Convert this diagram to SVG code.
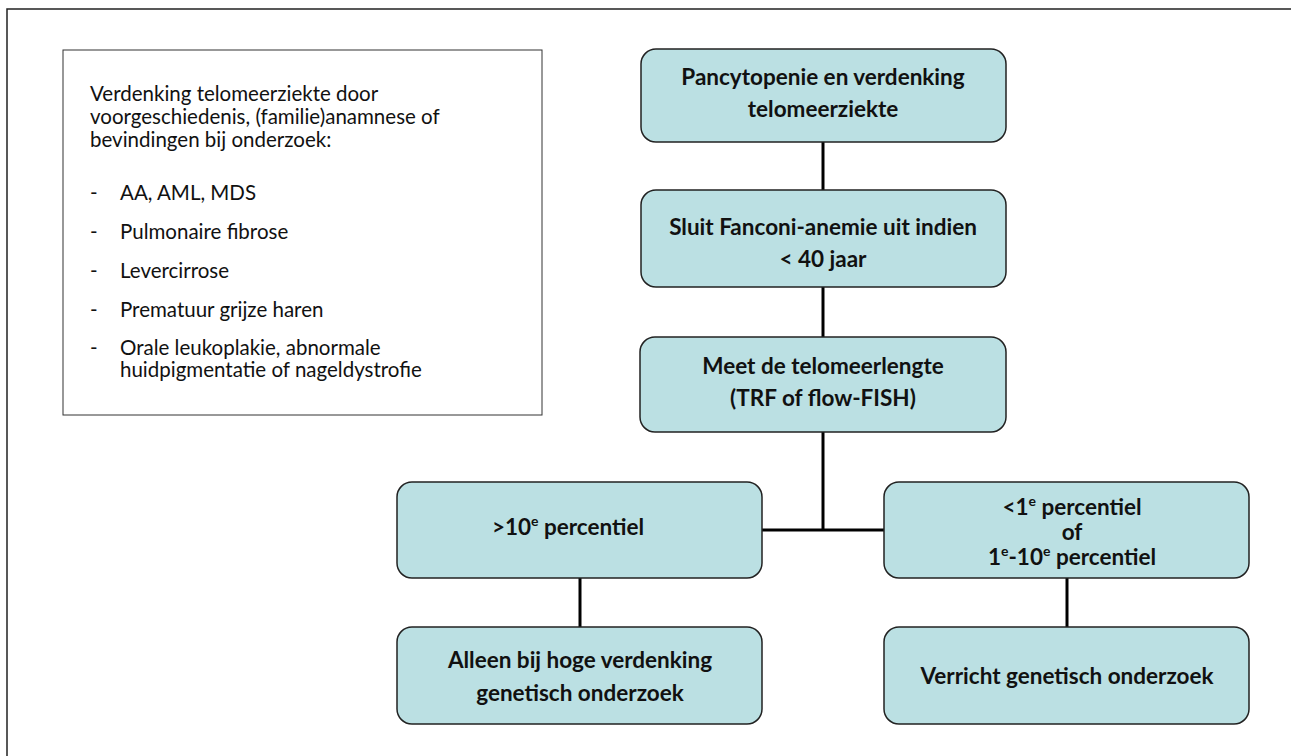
<svg xmlns="http://www.w3.org/2000/svg" width="1291" height="756" viewBox="0 0 1291 756">
<style>
.frame{fill:none;stroke:#222;stroke-width:1.5}
.info{fill:#fff;stroke:#333;stroke-width:1}
.node{fill:#BBE0E3;stroke:#222;stroke-width:1.5}
.t{font-family:Lato,"Liberation Sans",sans-serif;font-size:20.5px;fill:#111}
.b{font-family:Lato,"Liberation Sans",sans-serif;font-size:22.5px;font-weight:bold;fill:#111;text-anchor:middle}
.sup{font-size:14px}
.conn{stroke:#000;stroke-width:3;fill:none}
</style>
<rect width="1291" height="756" fill="#fff"/>
<rect class="frame" x="7" y="9" width="1300" height="760"/>
<g id="info">
<rect class="info" x="63" y="50" width="479" height="365"/>
<text class="t" x="90" y="101">Verdenking telomeerziekte door</text>
<text class="t" x="90" y="124">voorgeschiedenis, (familie)anamnese of</text>
<text class="t" x="90" y="147">bevindingen bij onderzoek:</text>
<text class="t" x="90" y="200">-</text><text class="t" x="120" y="200">AA, AML, MDS</text>
<text class="t" x="90" y="239">-</text><text class="t" x="120" y="239">Pulmonaire fibrose</text>
<text class="t" x="90" y="278">-</text><text class="t" x="120" y="278">Levercirrose</text>
<text class="t" x="90" y="317">-</text><text class="t" x="120" y="317">Prematuur grijze haren</text>
<text class="t" x="90" y="355">-</text><text class="t" x="120" y="355">Orale leukoplakie, abnormale</text>
<text class="t" x="120" y="377">huidpigmentatie of nageldystrofie</text>
</g>
<g id="connectors">
<line class="conn" x1="823" y1="142" x2="823" y2="190"/>
<line class="conn" x1="823" y1="287" x2="823" y2="337"/>
<line class="conn" x1="823" y1="432" x2="823" y2="531"/>
<line class="conn" x1="762" y1="530" x2="884" y2="530"/>
<line class="conn" x1="580" y1="578" x2="580" y2="627"/>
<line class="conn" x1="1067" y1="578" x2="1067" y2="627"/>
</g>
<g id="n1">
<rect class="node" x="641" y="49" width="365" height="93" rx="15"/>
<text class="b" x="823" y="85">Pancytopenie en verdenking</text>
<text class="b" x="823" y="117">telomeerziekte</text>
</g>
<g id="n2">
<rect class="node" x="641" y="190" width="365" height="97" rx="15"/>
<text class="b" x="823" y="235">Sluit Fanconi-anemie uit indien</text>
<text class="b" x="823" y="267">&lt; 40 jaar</text>
</g>
<g id="n3">
<rect class="node" x="640" y="337" width="366" height="95" rx="15"/>
<text class="b" x="823" y="374">Meet de telomeerlengte</text>
<text class="b" x="823" y="406">(TRF of flow-FISH)</text>
</g>
<g id="n4">
<rect class="node" x="397" y="482" width="365" height="96" rx="15"/>
<text class="b" x="568" y="535">&gt;10<tspan class="sup" dy="-9">e</tspan><tspan dy="9"> percentiel</tspan></text>
</g>
<g id="n5">
<rect class="node" x="884" y="482" width="365" height="96" rx="15"/>
<text class="b" x="1072" y="515">&lt;1<tspan class="sup" dy="-9">e</tspan><tspan dy="9"> percentiel</tspan></text>
<text class="b" x="1072" y="540">of</text>
<text class="b" x="1072" y="565">1<tspan class="sup" dy="-9">e</tspan><tspan dy="9">-10</tspan><tspan class="sup" dy="-9">e</tspan><tspan dy="9"> percentiel</tspan></text>
</g>
<g id="n6">
<rect class="node" x="397" y="627" width="365" height="97" rx="15"/>
<text class="b" x="580" y="668">Alleen bij hoge verdenking</text>
<text class="b" x="580" y="701">genetisch onderzoek</text>
</g>
<g id="n7">
<rect class="node" x="884" y="627" width="365" height="97" rx="15"/>
<text class="b" x="1067" y="684">Verricht genetisch onderzoek</text>
</g>
</svg>
